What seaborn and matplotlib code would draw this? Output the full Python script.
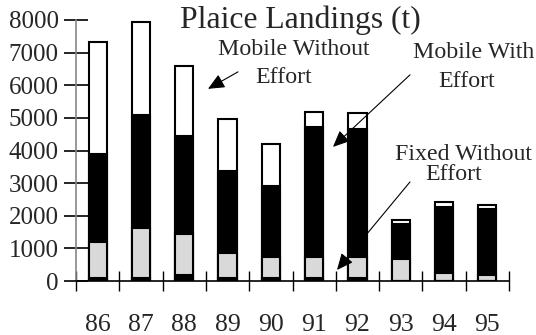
import matplotlib
matplotlib.use("Agg")
import matplotlib.pyplot as plt
import seaborn as sns
import numpy as np
import pandas as pd

years = ['86', '87', '88', '89', '90', '91', '92', '93', '94', '95']
fixed_with = [80, 80, 170, 80, 80, 80, 80, 15, 15, 15]
fixed_without = [1125, 1545, 1280, 770, 655, 655, 655, 650, 220, 160]
mobile_with = [2681, 3466, 2987, 2533, 2169, 3988, 3936, 1083, 2044, 2043]
mobile_without = [3436, 2843, 2166, 1577, 1307, 469, 471, 114, 134, 122]

title = "Plaice Landings (t)"

sns.set_style("white")
plt.rcParams['font.family'] = ['Liberation Serif', 'DejaVu Serif']

fig = plt.figure(figsize=(5.36, 3.35), dpi=100)
ax = fig.add_axes([76/536, 1-281/335, (509-76)/536, (281-20)/335])

df = pd.DataFrame({'year': years, 'fw': fixed_with, 'fwo': fixed_without,
                   'mw': mobile_with, 'mwo': mobile_without})
df['c1'] = df['fw']
df['c2'] = df['c1'] + df['fwo']
df['c3'] = df['c2'] + df['mw']
df['c4'] = df['c3'] + df['mwo']

for col, colr in [('c4', 'white'), ('c3', 'black'), ('c2', '#d9d9d9'), ('c1', 'black')]:
    sns.barplot(data=df, x='year', y=col, color=colr, saturation=1, width=0.42,
                edgecolor='black', linewidth=1.5, ax=ax, errorbar=None)

ax.set_xlim(-0.5, 9.5)
ax.set_ylim(0, 8000)
ax.set_xlabel('')
ax.set_ylabel('')

for s in ['top', 'right']:
    ax.spines[s].set_visible(False)
ax.spines['left'].set_color('#888888')
ax.spines['left'].set_linewidth(1.2)
ax.spines['bottom'].set_color('black')
ax.spines['bottom'].set_linewidth(1.2)
ax.spines['bottom'].set_zorder(5)

ax.set_yticks(np.arange(0, 8001, 1000))
ax.yaxis.set_tick_params(which='major', left=True, direction='inout', length=17, width=1.2,
                         color='black', labelsize=18, pad=4)
ax.set_xticks(range(len(years)), labels=years)
ax.tick_params(axis='x', which='major', bottom=True, length=0, labelsize=18.5, pad=24)
ax.set_xticks(np.arange(-0.5, 10, 1), minor=True)
ax.tick_params(axis='x', which='minor', bottom=True, direction='inout', length=14, width=1,
               color='black')

fig.text(300/536, 1-28/335, title, ha='center', va='baseline', fontsize=22.8)

def ptext(x, y, s):
    fig.text(x/536, 1-y/335, s, ha='center', va='baseline', fontsize=17.2)

ptext(294, 55, "Mobile Without")
ptext(284, 83, "Effort")
ptext(474, 58, "Mobile With")
ptext(467, 87, "Effort")
ptext(463, 160, "Fixed Without")
ptext(454, 180, "Effort")

def px2data(px, py):
    return ((px - 76) / 43.3 - 0.5, (281 - py) / 32.6 * 1000)

arrows = [((238, 72), (208, 89)), ((410, 75), (333, 147)), ((410, 182), (337, 270))]
for tail, tip in arrows:
    ax.annotate('', xy=px2data(*tip), xytext=px2data(*tail), annotation_clip=False,
                arrowprops=dict(arrowstyle='-|>,head_length=1.0,head_width=0.45',
                                color='black', lw=0.8, shrinkA=0, shrinkB=0))

fig.savefig('out.png', dpi=100)
